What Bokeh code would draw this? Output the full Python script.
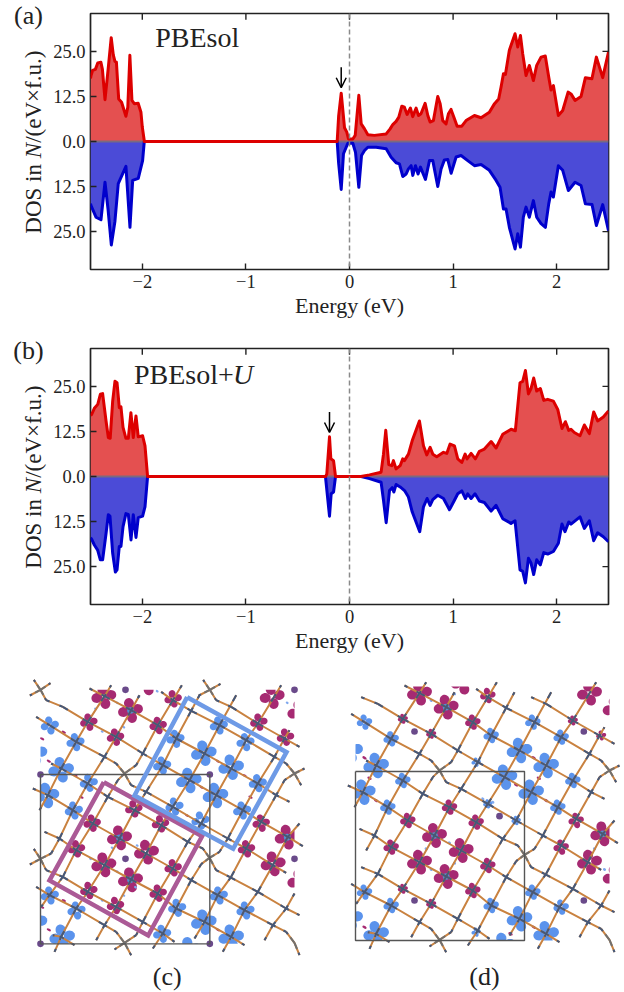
import numpy as np
from bokeh.plotting import figure
from bokeh.models import (Range1d, LinearAxis, FixedTicker, Label, Span, Arrow, OpenHead)
from bokeh.layouts import column, row
from bokeh.embed import file_html
from bokeh.resources import INLINE
from bokeh.core.properties import value

# ---------- density of states ----------
a_up_e = [-2.5,-2.495,-2.48,-2.453,-2.43,-2.40,-2.385,-2.36,-2.33,-2.30,-2.28,-2.264,-2.25,-2.228,-2.2,-2.158,-2.14,-2.12,-2.10,-2.077,-2.04,-2.013,-2.0,-1.98,
          -0.119,-0.105,-0.08,-0.064,-0.048,-0.026,-0.01,0.032,0.055,0.074,0.09,0.113,0.145,0.177,0.24,0.354,0.392,0.418,0.45,0.476,0.505,0.53,0.556,0.588,0.61,0.643,0.666,0.69,0.73,0.756,0.778,0.81,0.852,0.875,0.90,0.932,0.955,0.98,1.013,1.039,1.084,1.125,1.206,1.27,1.35,1.40,1.44,1.463,1.486,1.505,1.543,1.598,1.624,1.65,1.672,1.704,1.736,1.775,1.807,1.849,1.89,1.923,1.945,1.968,2.016,2.058,2.11,2.138,2.177,2.235,2.277,2.34,2.383,2.444,2.5]
a_up_d = [17.5,18.3,19.7,20,21.8,22,20,11.6,20,28.8,24,22.2,22,11.8,10.9,7,9.5,23.9,11.4,10.5,10.6,8.1,4,0,
          0,7,13.4,8.6,3.8,2.6,0.7,0.7,1.7,7.7,12.8,4.9,3.5,1.85,1.7,2.1,3.5,4.7,5.6,6.75,9.8,9.5,7.5,9.3,6.9,9.25,7.2,7.7,10.6,7.2,5.4,5.8,12.5,10.5,5.8,4.9,7.7,8.9,6.3,4.25,4.25,5.8,7.2,6.6,8.1,10.5,11.8,15.1,18.8,18.6,25.3,29.9,26.2,29.4,24.3,18.3,21.1,16.9,21.1,23.4,23.7,17.9,14.3,15.5,7.2,8.6,13.7,13.2,11.4,12.5,17.7,17.4,23.4,17.7,24.8]
a_dn_e = [-2.5,-2.495,-2.447,-2.399,-2.36,-2.33,-2.299,-2.264,-2.232,-2.158,-2.119,-2.093,-2.039,-1.997,-1.981,
          -0.119,-0.105,-0.08,-0.058,-0.032,-0.016,0.032,0.058,0.09,0.116,0.145,0.177,0.257,0.354,0.402,0.45,0.482,0.514,0.547,0.569,0.595,0.611,0.637,0.662,0.685,0.733,0.772,0.804,0.852,0.884,0.916,0.949,0.981,1.029,1.077,1.141,1.206,1.27,1.35,1.415,1.453,1.486,1.511,1.543,1.598,1.624,1.65,1.678,1.704,1.736,1.775,1.807,1.849,1.891,1.923,1.945,1.968,2.016,2.058,2.113,2.177,2.235,2.277,2.341,2.383,2.444,2.5]
a_dn_d = [17.2,17.8,21,21.7,11.3,19,28.7,22.1,11.7,6.9,23.8,10.8,10.2,5.3,0,
          0,6,13.3,3.4,1.6,0.5,0.5,3,12.7,3.9,2.5,1.6,1.6,2,4.35,5.9,6.2,9.7,9,7.6,6.7,9.4,6.7,9,7.1,10.5,5.3,5.3,12.5,7.6,5.1,5,8.8,4.3,3.9,5.3,6.7,6.4,8,10.8,12.7,18.7,18.7,23.8,29.8,25.6,29.3,21,18.2,21,16.4,21,22.8,23.8,17.3,14,15.4,6.7,8,13.6,11.3,12.2,17.3,17.5,23.3,17.5,24.7]
b_up_e = [-2.5,-2.489,-2.463,-2.43,-2.405,-2.383,-2.35,-2.328,-2.31,-2.286,-2.264,-2.244,-2.222,-2.206,-2.186,-2.158,-2.135,-2.11,-2.087,-2.061,-2.039,-1.997,-1.974,-1.949,
          -0.23,-0.219,-0.193,-0.18,-0.154,-0.135,0.11,0.193,0.305,0.328,0.35,0.379,0.408,0.424,0.45,0.489,0.514,0.53,0.569,0.605,0.675,0.714,0.746,0.778,0.804,0.842,0.907,0.939,0.971,1.013,1.045,1.084,1.116,1.135,1.174,1.215,1.254,1.302,1.367,1.415,1.479,1.56,1.601,1.646,1.672,1.698,1.727,1.752,1.778,1.807,1.842,1.875,1.913,1.968,2.01,2.051,2.084,2.116,2.138,2.17,2.225,2.267,2.315,2.357,2.395,2.45,2.5]
b_up_d = [17,17.2,18.9,20,22.8,23,15.4,10.8,10.6,20.9,26.4,26,19.1,19.3,13.6,10.6,10.6,17.7,10.8,16.8,11,11.3,8.5,0,
          0,0.7,11,4.9,4.4,0,0,0.45,1.2,6.2,12.8,3.3,3,4.4,2.1,3,4.9,4.4,6.2,9.9,15.4,8.5,6,8.1,6.2,5.5,6.7,6.4,9,8.5,4.9,3.9,6.2,4.9,6.4,4.9,7,7.6,9.7,7.9,11.7,13.1,12.7,26,26.4,29.4,22.9,24.4,27.3,23.7,24.4,21.1,21.4,20.9,18.6,13.3,15.2,12.8,13.1,12.2,11.3,14.3,11.9,17.9,15.4,16.5,18.2]
b_dn_e = [-2.5,-2.489,-2.463,-2.431,-2.405,-2.383,-2.35,-2.328,-2.312,-2.286,-2.26,-2.244,-2.222,-2.206,-2.186,-2.158,-2.135,-2.109,-2.087,-2.061,-2.039,-1.997,-1.974,-1.949,
          -0.232,-0.193,-0.177,-0.154,-0.135,0.113,0.193,0.305,0.328,0.354,0.386,0.412,0.428,0.45,0.489,0.531,0.569,0.605,0.678,0.714,0.749,0.778,0.804,0.852,0.907,0.965,1.013,1.045,1.084,1.119,1.141,1.174,1.212,1.254,1.302,1.367,1.415,1.479,1.559,1.598,1.646,1.672,1.698,1.727,1.752,1.778,1.807,1.842,1.875,1.913,1.968,2.016,2.051,2.08,2.116,2.138,2.225,2.267,2.315,2.357,2.395,2.45,2.5]
b_dn_d = [17,17.4,19,20.4,23.1,23.1,15.8,10.6,11,21.3,26.5,25.9,19.4,19.4,13.9,10.3,10.5,17.6,10.6,16.9,11.4,11,8.4,0,
          0,11,4.8,4.3,0,0,0.6,1.6,6.6,12.8,3.9,3.1,4.3,2.2,2.9,3.9,5.7,9.8,15.3,8.4,6.1,8,6.4,5.2,6.1,9.2,6.6,4.8,4,6.1,4.8,6.1,4.8,6.8,7.2,9.6,8,11.7,13,12.3,25.9,26.3,29.5,22.7,24,27.2,23.1,24.5,21.1,21.5,20.8,18.5,13.2,15.3,12.6,13.2,11.2,14.4,12.3,17.8,15.6,16.7,18.1]

x_ticks = [-2, -1, 0, 1, 2]
x_tick_labels = ["\u22122", "\u22121", "0", "1", "2"]
y_ticks = [-25, -12.5, 0, 12.5, 25]
y_tick_labels = ["25.0", "12.5", "0.0", "12.5", "25.0"]

# ---------- crystal structure views, in view units (3 units = 1 px) ----------
bonds = [
 # gentle chains
 [(80,80),(130,100),(205,145),(290,190),(370,240),(430,275),(510,320),(590,365),(670,410),(725,445),(805,490),(850,518)],
 [(50,130),(90,155),(170,205),(255,250),(290,270),(315,300),(335,335),(380,355),(460,400),(545,450),(625,495),(680,525),(760,575),(800,598)],
 [(210,45),(255,68),(335,110),(415,155),(470,195),(555,240),(635,285),(715,330),(770,365),(810,385)],
 [(425,55),(460,80),(515,112),(600,155),(680,200),(765,250),(800,270),(825,300),(845,335)],
 [(590,80),(635,100),(715,150),(795,195),(840,220)],
 [(40,345),(85,365),(160,410),(220,450),(300,495),(380,540),(460,585),(515,620),(595,665),(675,710),(760,755),(800,775),(825,808),(840,845)],
 [(75,475),(120,495),(170,530),(255,575),(335,618),(415,660),(470,705),(555,745),(635,790),(675,815)],
 [(95,270),(125,285),(205,330),(265,370),(345,410),(425,455),(505,505),(550,525),(570,553),(590,590),(630,610),(715,655),(800,705),(840,725)],
 [(50,640),(90,665),(170,705),(255,755),(290,775),(315,808),(335,845)],
 [(80,590),(130,610),(205,655),(290,700),(370,745),(430,780),(465,805)],
 [(100,785),(125,790),(165,815)],
 # steep chains
 [(60,410),(85,365),(125,285),(170,205),(205,145),(255,68),(275,35)],
 [(65,700),(90,665),(130,610),(170,530),(220,450),(265,370),(295,320),(315,300),(350,275),(370,240),(415,155),(460,80),(487,35)],
 [(95,540),(120,495),(160,410),(205,330),(255,250),(290,190),(335,110),(360,65)],
 [(105,835),(125,790),(170,705),(205,655),(255,575),(300,495),(345,410),(380,355),(430,275),(470,195),(515,112),(540,65)],
 [(230,800),(255,755),(290,700),(335,618),(380,540),(425,455),(460,400),(510,320),(555,240),(600,155),(650,65)],
 [(285,828),(315,808),(350,785),(370,745),(415,660),(460,585),(505,505),(545,450),(590,365),(635,285),(680,200),(715,150),(765,68),(785,35)],
 [(400,825),(430,780),(470,705),(515,620),(545,572),(570,553),(600,535),(625,495),(670,410),(715,330),(765,250),(795,195),(810,170)],
 [(525,795),(555,745),(595,665),(635,610),(680,525),(725,445),(770,365),(795,320),(825,300),(855,285)],
 [(610,835),(635,790),(675,710),(715,655),(760,575),(805,490),(840,450)],
 [(735,800),(760,755),(800,705),(825,660)],
]
bonds_c_extra = [
 [(43,19),(63,49),(80,80)], [(31,66),(63,49),(93,29)],
 [(551,19),(571,49),(590,80)], [(538,66),(571,49),(603,31)],
 [(43,526),(63,556),(80,590)], [(31,573),(63,556),(95,540)],
]
gray_nodes = [(315,300),(570,553),(825,300),(315,808),(825,808),(63,49),(571,49),(63,556)]

c_blue_large = [(122,298),(78,375),(585,375),(632,290),(550,248),(505,330),(125,800),(550,755),(632,800),(42,248),(42,755),(505,838)]
c_blue_mid = [(88,165),(165,215),(425,285),(465,205),(595,165),(675,215),(205,337),(160,420),(712,338),(665,420),(462,408),(540,450),(88,675),(168,720),(425,790),(470,712),(595,675),(675,720)]
c_mag_large = [(250,78),(330,120),(755,78),(297,502),(378,545),(250,583),(330,628),(800,500),(758,580),(838,125),(838,632),(380,37)]
c_mag_core = [(330,120),(297,502),(330,628),(800,500)]
c_mag_mid = [(205,155),(285,200),(458,85),(413,165),(715,155),(795,200),(340,415),(215,458),(420,460),(168,535),(458,592),(205,660),(285,705),(413,668),(722,458),(678,535)]
c_mag_dash = [(85,272),(165,315),(592,272),(672,315),(543,350),(65,205),(130,185),(85,778),(592,778),(65,710),(130,690),(183,380),(690,380),(240,590),(500,435)]
c_blue_dot = [(290,97),(355,78),(410,62),(245,183),(225,115),(310,170),(800,97),(350,525),(275,532),(210,565),(290,603),(345,650),(245,690),(310,675)]
c_atoms = [(60,312),(568,312),(60,820),(568,820),(315,565),(822,565),(315,58),(822,58)]
c_cell_x = [60,568,568,60,60]
c_cell_y = [312,312,820,820,312]
c_blue_box_x = [500,798,638,342,500]
c_blue_box_y = [80,245,535,375,80]
c_mag_box_x = [250,545,383,87,250]
c_mag_box_y = [335,497,795,630,335]

d_blue_large = [(125,285),(85,365),(590,365),(635,285),(555,240),(510,320),(125,790),(555,745),(635,790),(47,240),(47,742),(505,825)]
d_blue_mid = [(90,155),(170,205),(205,330),(160,410),(470,195),(595,155),(680,200),(715,330),(670,410),(90,665),(170,705),(470,705),(595,665),(680,710)]
d_blue_small = [(425,275),(545,450),(425,785),(460,400)]
d_mag_large = [(255,68),(335,110),(765,68),(300,495),(380,540),(255,575),(335,618),(805,490),(765,575),(842,115),(842,620),(385,35)]
d_mag_core = [(335,110),(300,495),(335,618),(805,490)]
d_mag_mid = [(345,410),(220,450),(425,455),(170,530),(460,585),(415,155),(460,75),(415,660),(725,450),(680,530)]
d_mag_small = [(205,145),(290,190),(205,655),(290,700),(715,150),(800,195)]
d_mag_dash = [(90,262),(105,323),(545,343),(598,262),(613,323),(90,770),(528,790),(598,770),(125,390),(635,390)]
d_blue_dot = [(360,70),(290,90),(345,517),(275,535),(360,578),(290,597),(780,535),(810,597),(445,385),(475,395)]
d_atoms = [(240,183),(748,183),(495,437),(240,690),(748,690)]
d_cell_x = [63,570,570,63,63]
d_cell_y = [303,303,810,810,303]

# ---------- style ----------
SERIF = "Liberation Serif"
INK = "#222222"
RED_FILL, RED_LINE = "#E45050", "#DD0000"
BLUE_FILL, BLUE_LINE = "#4B4BD7", "#0000CC"
MAG, CORN = "#A62A72", "#5B93EC"
ORANGE, SLATE, GRAY = "#C98240", "#44587A", "#707070"
PURPLE = "#6A4A8A"
STRIP = 48


def ticks_axis(p, side, ticks, labels, label=None):
    ax = LinearAxis(ticker=FixedTicker(ticks=ticks), major_tick_in=6, major_tick_out=0,
                    minor_tick_line_color=None, axis_line_color=None, major_tick_line_color=INK,
                    major_tick_line_width=1.4, major_label_overrides=dict(zip(ticks, labels)),
                    major_label_text_font=SERIF, major_label_text_font_size="18.5px",
                    major_label_text_color=INK, major_label_standoff=5)
    if label:
        ax.axis_label = label
        ax.axis_label_text_font = SERIF
        ax.axis_label_text_font_size = "22px"
        ax.axis_label_text_font_style = "normal"
        ax.axis_label_text_color = INK
        ax.axis_label_standoff = 2
    p.add_layout(ax, side)


def dos_panel(tag, title_parts, top, bottom, up_e, up_d, dn_e, dn_d, arrow):
    height = top + 256 + bottom
    # left strip holds the panel tag and the y title
    s = figure(width=STRIP, height=height, x_range=Range1d(0, STRIP),
               y_range=Range1d(-35.5 - bottom / 3.606, 35.5 + top / 3.606), output_backend="svg",
               toolbar_location=None, min_border=0, x_axis_type=None, y_axis_type=None, frame_align=False,
               background_fill_color="white", border_fill_color="white", outline_line_color=None)
    s.grid.visible = False
    s.text([28], [34.9], [tag], text_font=value(SERIF), text_font_size="26px", text_color=INK,
           text_align="center", text_baseline="middle")
    for y0, txt, style in [(-15.9, "DOS in", "normal"), (-2.5, "N", "italic"), (12.4, "/(eV\u00d7f.u.)", "normal")]:
        s.text([33], [y0], [txt], angle=90, angle_units="deg", text_font=value(SERIF), text_font_size="23px",
               text_font_style=style, text_color=INK, text_baseline="middle", text_align="center")

    p = figure(width=624 - STRIP, height=height, x_range=Range1d(-2.5, 2.5), y_range=Range1d(-35.5, 35.5),
               output_backend="svg", toolbar_location=None, min_border_left=90 - STRIP, min_border_right=16,
               min_border_top=top, min_border_bottom=bottom, x_axis_type=None, y_axis_type=None, frame_align=False,
               background_fill_color="white", border_fill_color="white")
    p.grid.visible = False
    p.outline_line_color = INK
    p.outline_line_width = 1.7
    ticks_axis(p, "below", x_ticks, x_tick_labels, "Energy (eV)")
    ticks_axis(p, "left", y_ticks, y_tick_labels)

    # inward ticks on the top and right edges, same positions as the labelled axes
    p.segment(x_ticks, [35.5] * 5, x_ticks, [35.5 - 1.7] * 5, line_color=INK, line_width=1.4)
    p.segment([2.5] * 5, y_ticks, [2.5 - 0.058] * 5, y_ticks, line_color=INK, line_width=1.4)

    up_e, up_d, dn_e, dn_d = map(np.array, (up_e, up_d, dn_e, dn_d))
    p.varea(up_e, 0 * up_d, up_d, fill_color=RED_FILL)
    p.varea(dn_e, 0 * dn_d, -dn_d, fill_color=BLUE_FILL)
    p.line([-2.5, 2.5], [0, 0], line_color="#7A6A80", line_width=2)
    p.line(dn_e, -dn_d, line_color=BLUE_LINE, line_width=3, line_join="round")
    p.line(up_e, up_d, line_color=RED_LINE, line_width=3, line_join="round")
    p.add_layout(Span(location=0, dimension="height", line_color="#8A8A8A", line_width=1.5, line_dash="5 3"))
    p.add_layout(Arrow(end=OpenHead(size=10, line_width=1.5, line_color="black"), line_color="black", line_width=1.5,
                       x_start=arrow[0], x_end=arrow[0], y_start=arrow[1], y_end=arrow[2]))
    for x0, y0, txt, style in title_parts:
        p.add_layout(Label(x=x0, y=y0, text=txt, text_font=SERIF, text_font_size="28px", text_color=INK,
                           text_font_style=style, text_baseline="middle"))
    return row(s, p, spacing=0)


pa = dos_panel("(a)", [(-1.875, 28.8, "PBEsol", "normal")], 13, 61, a_up_e, a_up_d, a_dn_e, a_dn_d, (-0.08, 20.6, 14.9))
pb = dos_panel("(b)", [(-2.08, 28.2, "PBEsol+", "normal"), (-1.125, 28.2, "U", "italic")], 18, 54, b_up_e, b_up_d, b_dn_e, b_dn_d, (-0.193, 17.9, 12.2))


def flowers(p, centres, extent, color, box, turn=np.radians(12)):
    xs, ys = [], []
    t = np.linspace(0, 2 * np.pi, 28)
    for cx, cy in centres:
        for k in range(4):
            a = turn + k * np.pi / 2
            ex = 0.58 * extent + 0.44 * extent * np.cos(t)
            ey = 0.40 * extent * np.sin(t)
            x = cx + ex * np.cos(a) + ey * np.sin(a)
            y = cy - ex * np.sin(a) + ey * np.cos(a)
            xs.append(np.clip(x, box[0], box[1]).tolist())
            ys.append(np.clip(y, box[2], box[3]).tolist())
    p.patches(xs, ys, fill_color=color, line_color=None)


def draw_bonds(p, lines, dx, dy):
    xs = [[q[0] + dx for q in ln] for ln in lines]
    ys = [[q[1] + dy for q in ln] for ln in lines]
    p.multi_line(xs, ys, line_color=ORANGE, line_width=2, line_join="round")
    sx, sy, gx, gy = [], [], [], []
    for ln in lines:
        for i, v in enumerate(ln):
            for j in (i - 1, i + 1):
                if 0 <= j < len(ln):
                    n = ln[j]
                    if v in gray_nodes:
                        gx.append([v[0] + dx, v[0] + 0.5 * (n[0] - v[0]) + dx])
                        gy.append([v[1] + dy, v[1] + 0.5 * (n[1] - v[1]) + dy])
                    else:
                        sx.append([v[0] + dx, v[0] + 0.2 * (n[0] - v[0]) + dx])
                        sy.append([v[1] + dy, v[1] + 0.2 * (n[1] - v[1]) + dy])
    p.multi_line(sx, sy, line_color=SLATE, line_width=2)
    p.multi_line(gx, gy, line_color=GRAY, line_width=2)


def view(xr, yr, w, h):
    p = figure(width=w, height=h, x_range=Range1d(*xr), y_range=Range1d(*yr), output_backend="svg",
               toolbar_location=None, min_border=0, x_axis_type=None, y_axis_type=None, frame_align=False,
               background_fill_color="white", border_fill_color="white", outline_line_color=None)
    p.grid.visible = False
    return p


def pts(p, centres, rx, ry, color, angle=-0.5):
    p.ellipse([c[0] for c in centres], [c[1] for c in centres], width=rx, height=ry, angle=angle,
              fill_color=color, line_color=None)


pc = view((-60, 876), (966, -36), 312, 334)
box_c = (60, 822, 58, 820)
flowers(pc, c_blue_large, 38, CORN, box_c)
flowers(pc, c_blue_mid, 27, CORN, box_c)
flowers(pc, c_mag_large, 37, MAG, box_c)
flowers(pc, c_mag_mid, 26, MAG, box_c)
pts(pc, c_mag_core, 20, 20, "#4F8FD8", 0)
pts(pc, c_mag_dash, 14, 7, MAG)
pts(pc, c_blue_dot, 9, 7, "#7FA8EE")
draw_bonds(pc, bonds + bonds_c_extra, -3, 9)
pts(pc, c_atoms, 20, 20, PURPLE, 0)
pc.line(c_cell_x, c_cell_y, line_color="#555555", line_width=1.4)
pc.line(c_mag_box_x, c_mag_box_y, line_color="#AB5A96", line_width=4.5, line_join="miter")
pc.line(c_blue_box_x, c_blue_box_y, line_color="#6E9AE6", line_width=4.5, line_join="miter")
pc.text([440], [918], ["(c)"], text_font=value(SERIF), text_font_size="26px", text_align="center",
        text_baseline="middle", text_color=INK)

pd_ = view((-66, 870), (966, -36), 312, 334)
box_d = (63, 825, 48, 810)
flowers(pd_, d_blue_large, 38, CORN, box_d)
flowers(pd_, d_blue_mid, 23, CORN, box_d)
flowers(pd_, d_blue_small, 14, CORN, box_d)
flowers(pd_, d_mag_large, 37, MAG, box_d)
flowers(pd_, d_mag_mid, 23, MAG, box_d)
flowers(pd_, d_mag_small, 15, MAG, box_d)
pts(pd_, d_mag_core, 20, 20, "#4F8FD8", 0)
pts(pd_, d_mag_dash, 14, 8, MAG)
pts(pd_, d_blue_dot, 10, 8, "#7FA8EE")
draw_bonds(pd_, bonds, 0, 0)
pts(pd_, d_atoms, 20, 20, PURPLE, 0)
pd_.line(d_cell_x, d_cell_y, line_color="#555555", line_width=1.4)
pd_.text([450], [918], ["(d)"], text_font=value(SERIF), text_font_size="26px", text_align="center",
         text_baseline="middle", text_color=INK)

page = column(pa, pb, row(pc, pd_, spacing=0), spacing=0)
open("out.html", "w").write(file_html(page, INLINE))
